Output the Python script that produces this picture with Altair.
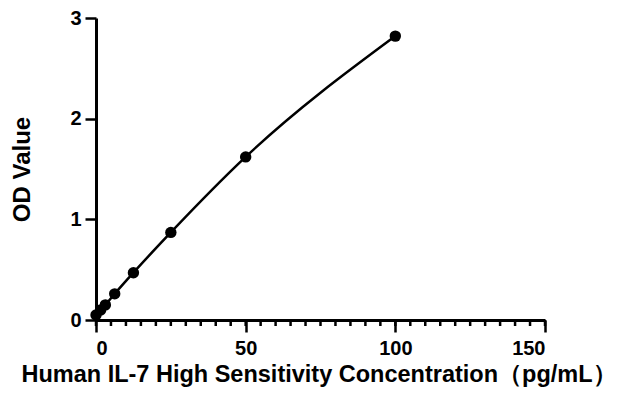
import altair as alt
import pandas as pd

conc = [0, 1.5625, 3.125, 6.25, 12.5, 25, 50, 100]
od = [0.05, 0.10, 0.15, 0.26, 0.47, 0.87, 1.62, 2.82]
minor_ticks = list(range(0, 151, 5))

df = pd.DataFrame({"x": conc, "y": od})
ticks = pd.DataFrame({"t": minor_ticks})

W, H = 449, 302
font = "Liberation Sans"

xscale = alt.Scale(domain=[0, 150], nice=False)
yscale = alt.Scale(domain=[0, 3], nice=False)

xaxis = alt.Axis(values=[0, 50, 100, 150], format="d",
                 title="Human IL-7 High Sensitivity Concentration（pg/mL）",
                 labelFont=font, labelFontSize=20, labelFontWeight="bold", labelColor="black",
                 titleFont=font, titleFontSize=23.5, titleFontWeight="bold", titleColor="black",
                 titleX=W / 2 - 2,
                 domainColor="black", domainWidth=3, tickColor="black", tickWidth=2.5, tickSize=12,
                 labelPadding=6, titlePadding=4, grid=False)
yaxis = alt.Axis(values=[0, 1, 2, 3], format="d", title="OD Value",
                 labelFont=font, labelFontSize=20, labelFontWeight="bold", labelColor="black",
                 titleFont=font, titleFontSize=24, titleFontWeight="bold", titleColor="black",
                 domainColor="black", domainWidth=3, tickColor="black", tickWidth=2.5, tickSize=11,
                 labelPadding=4, titlePadding=35, grid=False)

line = alt.Chart(df).mark_line(color="black", strokeWidth=2.5, interpolate="monotone").encode(
    x=alt.X("x:Q", scale=xscale, axis=xaxis),
    y=alt.Y("y:Q", scale=yscale, axis=yaxis),
)
pts = alt.Chart(df).mark_circle(color="black", opacity=1, size=130).encode(
    x=alt.X("x:Q", scale=xscale),
    y=alt.Y("y:Q", scale=yscale),
)
minor = alt.Chart(ticks).mark_rule(color="black", strokeWidth=2.5).encode(
    x=alt.X("t:Q", scale=xscale),
    y=alt.value(H),
    y2=alt.value(H + 6),
)

chart = alt.layer(line, minor, pts).properties(
    width=W, height=H,
    autosize=alt.AutoSizeParams(type="none"),
    padding={"left": 88, "top": 10, "right": 69, "bottom": 73},
).configure_view(stroke=None)

chart.save("out.html", embed_options={"renderer": "svg", "actions": False})
